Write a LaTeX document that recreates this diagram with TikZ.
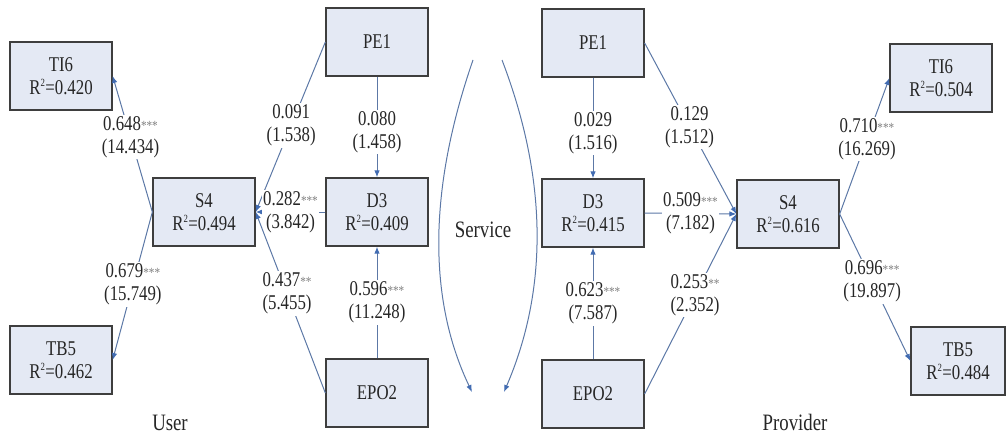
\documentclass[tikz,border=0pt]{standalone}
\usepackage{fontspec}
\setmainfont[FakeStretch=0.8]{Liberation Serif}
\usetikzlibrary{arrows.meta}
\definecolor{boxfill}{RGB}{228,233,244}
\definecolor{boxline}{RGB}{62,62,62}
\definecolor{linkline}{RGB}{92,120,166}
\definecolor{tipblue}{RGB}{66,108,178}
\definecolor{stargray}{RGB}{130,130,130}
\newcommand{\sig}[1]{{\color{stargray}\fontsize{14}{14}\selectfont #1}}
\newcommand{\rsq}[1]{R\textsuperscript{\fontsize{11}{11}\selectfont 2}=#1}

\begin{document}
\begin{tikzpicture}[x=1pt,y=-1pt,
  every node/.style={font=\fontsize{21}{23}\selectfont, text=black!85},
  latent/.style={draw=boxline, line width=1.3pt, fill=boxfill,
    minimum width=102pt, minimum height=68pt, align=center, inner sep=0pt},
  link/.style={draw=linkline, line width=1pt,
    -{Latex[length=7pt,width=5.5pt,color=tipblue]}},
  coef/.style={fill=white, align=center, inner sep=1.5pt},
  caption/.style={font=\fontsize{23.5}{26}\selectfont}
]
\useasboundingbox (0,0) rectangle (1006,434);

% ---- User model ----
\node[latent] (ti6u) at (61,76)  {TI6\\\rsq{0.420}};
\node[latent] (tb5u) at (61,360) {TB5\\\rsq{0.462}};
\node[latent] (s4u)  at (204,212) {S4\\\rsq{0.494}};
\node[latent] (pe1u) at (377,42)  {PE1};
\node[latent] (d3u)  at (377,212) {D3\\\rsq{0.409}};
\node[latent] (epou) at (377,393) {EPO2};

\draw[link] (s4u.west) -- node[coef,pos=0.55] {0.648\sig{***}\\(14.434)} (ti6u.east);
\draw[link] (s4u.west) -- node[coef,pos=0.49] {0.679\sig{***}\\(15.749)} (tb5u.east);
\draw[link] (pe1u.west) -- node[coef,pos=0.49] {0.091\\(1.538)} (s4u.east);
\draw[link] (d3u.west) -- node[coef,pos=0.5] {0.282\sig{***}\\(3.842)} (s4u.east);
\draw[link] (epou.west) -- node[coef,pos=0.55] {0.437\sig{**}\\(5.455)} (s4u.east);
\draw[link] (pe1u.south) -- node[coef,pos=0.55] {0.080\\(1.458)} (d3u.north);
\draw[link] (epou.north) -- node[coef,pos=0.5] {0.596\sig{***}\\(11.248)} (d3u.south);

\node[caption] (useru) at (170,423) {User};

% ---- Service arcs ----
\node[caption] (serv) at (483,230) {Service};
\coordinate (arcLs) at (473,60);
\coordinate (arcLe) at (472,392);
\coordinate (arcRs) at (502,60);
\coordinate (arcRe) at (504,392);
\draw[link] (arcLs) .. controls (428,190) and (428,300) .. (arcLe);
\draw[link] (arcRs) .. controls (548,180) and (548,290) .. (arcRe);

% ---- Provider model ----
\node[latent] (pe1p) at (593,43)  {PE1};
\node[latent] (d3p)  at (593,213) {D3\\\rsq{0.415}};
\node[latent] (epop) at (593,394) {EPO2};
\node[latent] (s4p)  at (788,214) {S4\\\rsq{0.616}};
\node[latent] (ti6p) at (941,78)  {TI6\\\rsq{0.504}};
\node[latent, minimum width=94pt] (tb5p) at (958,361) {TB5\\\rsq{0.484}};

\draw[link] (pe1p.south) -- node[coef,pos=0.55] {0.029\\(1.516)} (d3p.north);
\draw[link] (epop.north) -- node[coef,pos=0.5] {0.623\sig{***}\\(7.587)} (d3p.south);
\draw[link] (pe1p.east) -- node[coef,pos=0.49] {0.129\\(1.512)} (s4p.west);
\draw[link] (d3p.east) -- node[coef,pos=0.5] {0.509\sig{***}\\(7.182)} (s4p.west);
\draw[link] (epop.east) -- node[coef,pos=0.55] {0.253\sig{**}\\(2.352)} (s4p.west);
\draw[link] (s4p.east) -- node[coef,pos=0.55] {0.710\sig{***}\\(16.269)} (ti6p.west);
\draw[link] (s4p.east) -- node[coef,pos=0.46] {0.696\sig{***}\\(19.897)} (tb5p.west);

\node[caption] (provp) at (795,422) {Provider};
\end{tikzpicture}
\end{document}
